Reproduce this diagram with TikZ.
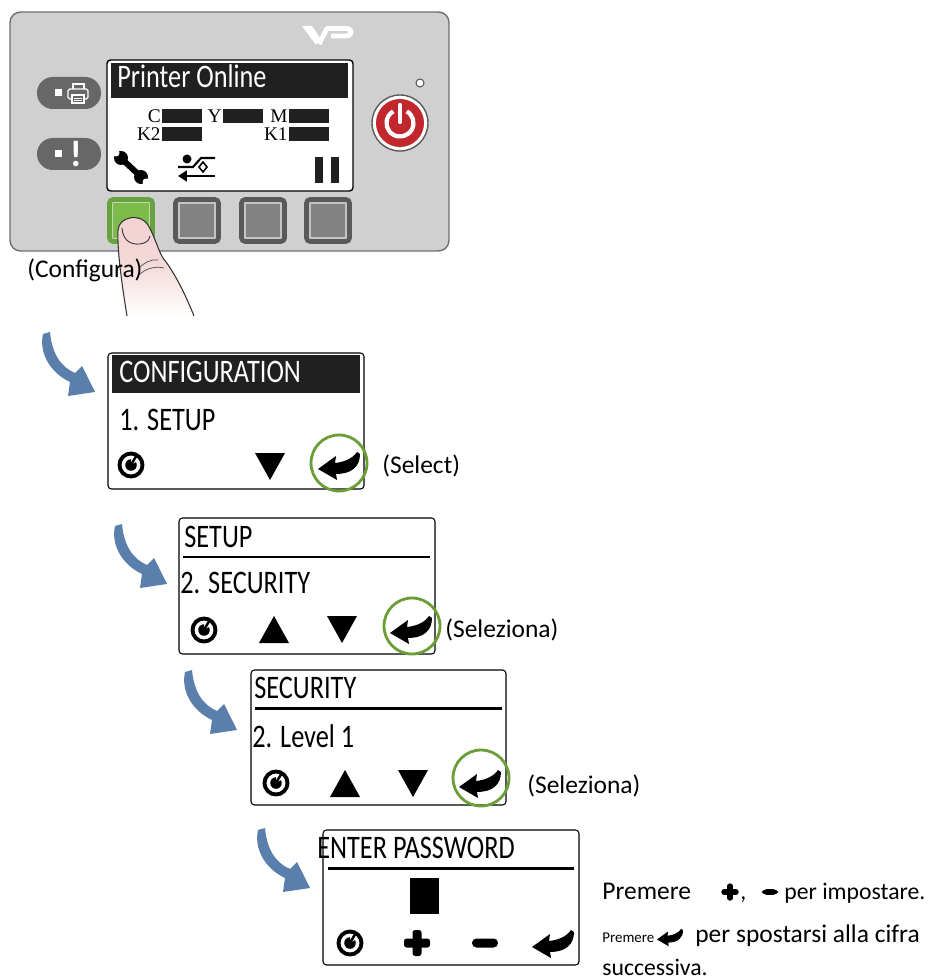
\documentclass[tikz,border=0pt]{standalone}
\usepackage{fontspec}
\setmainfont{Carlito}
\newfontfamily\lcdfont[FakeStretch=0.8]{Carlito}
\newfontfamily\inkfont{Liberation Serif}
\usetikzlibrary{arrows.meta}

\definecolor{panelgray}{HTML}{D0D0D0}
\definecolor{panelline}{HTML}{6F6F6F}
\definecolor{pillgray}{HTML}{676767}
\definecolor{lcdblack}{HTML}{202020}
\definecolor{keygreen}{HTML}{7DBB4B}
\definecolor{keygreenrim}{HTML}{67A440}
\definecolor{keygreengap}{HTML}{C5D8B6}
\definecolor{keygap}{HTML}{C4C4C4}
\definecolor{keyrim}{HTML}{5A5A5A}
\definecolor{keyface}{HTML}{828282}
\definecolor{powerred}{HTML}{C1272D}
\definecolor{stepblue}{HTML}{5B7FAD}
\definecolor{ringgreen}{HTML}{6B9E37}
\definecolor{fingerpink}{HTML}{F2D0D0}

\tikzset{
  screen/.style={draw=black, line width=0.6pt, rounded corners=2pt, fill=white},
  lcd/.style={font=\lcdfont\fontsize{18.7}{19}\selectfont, inner sep=0pt, anchor=base west},
  hint/.style={font=\fontsize{14.5}{16}\selectfont, inner sep=0pt, anchor=base west},
  note/.style={font=\fontsize{13.5}{15}\selectfont, inner sep=0pt, anchor=base west},
  ink/.style={font=\inkfont\fontsize{11}{11}\selectfont, inner sep=0pt, anchor=base east},
  ring/.style={draw=ringgreen, line width=1.6pt},
  % lcd soft-key icons
  pics/refresh/.style={code={
    \draw[line width=2.2pt] (0,0) circle[radius=11.5];
    \fill (0,0) -- (-30:5.8) arc[start angle=-30, end angle=270, radius=5.8] -- cycle;
    \draw[line width=1.4pt] (0,0) -- (-60:11);
  }},
  pics/arrowDown/.style={code={\fill (-15,-13) -- (15,-13) -- (0,14) -- cycle;}},
  pics/arrowUp/.style={code={\fill (-15,14) -- (15,14) -- (0,-13) -- cycle;}},
  pics/enterKey/.style={code={
    \fill (-21,4) -- (-3,-9) -- (-4,-2) .. controls (6,-3) and (14,-7) .. (18,-13)
      -- (21,-11) .. controls (21,2) and (12,9) .. (-3,9) -- (-2,15) -- cycle;
  }},
  pics/plusKey/.style={code={
    \fill[rounded corners=1.5pt] (-4.5,-13) rectangle (4.5,13);
    \fill[rounded corners=1.5pt] (-13,-4.5) rectangle (13,4.5);
  }},
  pics/minusKey/.style={code={\fill[rounded corners=2.5pt] (-13,-4.5) rectangle (13,4.5);}},
  pics/stepArrow/.style={code={
    \fill[stepblue] (0,2) .. controls (-4,20) and (6,40) .. (27,50) -- (25,64) -- (52,60)
      -- (39,34) -- (32,41) .. controls (18,35) and (9,22) .. (7,0) -- cycle;
  }},
}

\begin{document}
\begin{tikzpicture}[x=0.02cm, y=-0.02cm]
  \useasboundingbox (0,0) rectangle (934,979);

  % Control panel
  \draw[draw=panelline, fill=panelgray, line width=0.8pt, rounded corners=6pt] (10,12) rectangle (449,251);

  % Logo
  \fill[white] (302,26) -- (312,26) -- (320,38) -- (316,45) -- cycle;
  \draw[white, line width=2.8pt, line join=round] (319,44) -- (327,28.5) -- (346,28.5)
    .. controls (353,28.5) and (353,36) .. (346,36) -- (331,36);

  % Status keys on the left
  \fill[pillgray, rounded corners=9pt] (37,77) rectangle (101,109);
  \fill[white] (55,89.5) rectangle (62,96.5);
  \draw[white, line width=0.7pt] (73,90) -- (73,84) -- (84,84) -- (84,90);
  \draw[white, line width=0.7pt, fill=pillgray, rounded corners=1pt] (68,89) rectangle (88,99);
  \draw[white, line width=0.7pt, fill=pillgray] (72,95) rectangle (84,103);
  \draw[white, line width=0.5pt] (74,98) -- (82,98) (74,100.5) -- (82,100.5);
  \fill[pillgray, rounded corners=9pt] (37,138) rectangle (101,170);
  \fill[white] (55,150.5) rectangle (62,157.5);
  \node[white, font=\fontsize{21}{21}\selectfont\bfseries, inner sep=0pt] (alarm) at (76,154) {!};

  % Display
  \draw[fill=white, line width=0.8pt, rounded corners=2pt] (107,60) rectangle (353,191);
  \fill[lcdblack] (111,63) rectangle (348,98);
  \node[lcd, white] (online) at (117,88) {Printer Online};

  % Ink levels
  \foreach \x/\y/\lab in {162/123/C, 223/123/Y, 289/123/M, 162/141/K2, 289/141/K1} {
    \fill[lcdblack] (\x,\y-14) rectangle (\x+40,\y);
    \node[ink] (ink\lab) at (\x-1,\y) {\lab};
  }

  % Wrench
  \draw[line width=3.4pt] (123,160) -- (139,175);
  \fill (121,158) circle[radius=7];
  \fill (141,177) circle[radius=7];
  \fill[white] (116,153) circle[radius=3.5];
  \fill[white] (146,182) circle[radius=3.5];
  % Paper feed
  \fill (187,159) circle[radius=4.5];
  \draw[line width=1.2pt] (178,167) -- (193,167) -- (201,158) -- (215,158);
  \draw[line width=0.9pt] (203,162) -- (207,167) -- (203,172) -- (199,167) -- cycle;
  \draw[line width=1.6pt, -{Triangle[length=5pt,width=6pt]}] (215,176) -- (178,176);
  % Pause
  \fill[lcdblack] (315,157) rectangle (323,183);
  \fill[lcdblack] (331,157) rectangle (339,183);

  % Soft keys
  \draw[draw=keygreenrim, fill=keygreengap, line width=2.6pt, rounded corners=2pt] (109.5,199.5) rectangle (152.5,241.5);
  \fill[keygreen] (113,203) rectangle (149,238);
  \foreach \x in {173,239,304} {
    \draw[draw=keyrim, fill=keygap, line width=2.6pt, rounded corners=2pt] (\x+2.5,199.5) rectangle (\x+45.5,241.5);
    \fill[keyface] (\x+7,204) rectangle (\x+41,237);
  }

  % Power key and led
  \draw[draw=keyrim, fill=white, line width=0.8pt] (400,123) circle[radius=28];
  \fill[powerred] (400,123) circle[radius=24];
  \draw[white, line width=2.4pt] (400,123) ++(-60:13.5) arc[start angle=-60, end angle=240, radius=13.5];
  \draw[white, line width=2.4pt, line cap=round] (400,122) -- (400,105);
  \draw[draw=keyrim, fill=white, line width=0.6pt] (420,83) circle[radius=4];

  % Finger on the first key
  \shade[top color=fingerpink, bottom color=white, middle color=fingerpink!80]
    (127,316) .. controls (122,285) and (117,250) .. (118,230)
    .. controls (119,216) and (141,213) .. (148,225)
    .. controls (155,237) and (158,250) .. (163,258)
    .. controls (175,273) and (186,296) .. (194,316) -- cycle;
  \draw[line width=0.6pt, black!80] (127,316) .. controls (122,285) and (117,250) .. (118,230)
    .. controls (119,216) and (141,213) .. (148,225)
    .. controls (155,237) and (158,250) .. (163,258)
    .. controls (175,273) and (186,296) .. (194,316);
  \draw[line width=0.5pt, black!80] (122,228) .. controls (123,240) and (130,245) .. (140,244)
    .. controls (146,243) and (149,241) .. (150,236);
  \draw[line width=0.4pt, black!70] (139,268) .. controls (145,262) and (152,259) .. (158,260)
    (140,274) .. controls (147,268) and (156,266) .. (164,268);
  \node[hint] (cfgKey) at (27,278) {(Configura)};

  % Configuration menu
  \pic at (43,332) {stepArrow};
  \draw[screen] (108,353) rectangle (364,489);
  \fill[lcdblack] (112,355) rectangle (360,393);
  \node[lcd, white] (cfgTitle) at (119,382) {CONFIGURATION};
  \node[lcd] (cfgItem) at (119,430) {1. SETUP};
  \pic at (131,465) {refresh};
  \pic at (270,466) {arrowDown};
  \pic at (339,465) {enterKey};
  \draw[ring] (339,463) circle[radius=28];
  \node[hint] (cfgSel) at (382,473) {(Select)};

  % Setup menu
  \pic at (115,524) {stepArrow};
  \draw[screen] (179,518) rectangle (435,654);
  \node[lcd] (setTitle) at (184,547) {SETUP};
  \draw[line width=1.7pt] (183,557) -- (430,557);
  \node[lcd] (setItem) at (180,593) {2. SECURITY};
  \pic at (204,630) {refresh};
  \pic at (274,629) {arrowUp};
  \pic at (342,629) {arrowDown};
  \pic at (411,629) {enterKey};
  \draw[ring] (412,626) circle[radius=28];
  \node[hint] (setSel) at (445,637) {(Seleziona)};

  % Security menu
  \pic at (185,670) {stepArrow};
  \draw[screen] (251,670) rectangle (506,805);
  \node[lcd] (secTitle) at (254,698) {SECURITY};
  \draw[line width=1.7pt] (255,708) -- (502,708);
  \node[lcd] (secItem) at (252,747) {2. Level 1};
  \pic at (276,783) {refresh};
  \pic at (345,783) {arrowUp};
  \pic at (413,783) {arrowDown};
  \pic at (480,783) {enterKey};
  \draw[ring] (481,778) circle[radius=28];
  \node[hint] (secSel) at (527,793) {(Seleziona)};

  % Password entry
  \pic at (258,828) {stepArrow};
  \draw[screen] (323,830) rectangle (579,965);
  \node[lcd] (pwdTitle) at (317,858) {ENTER PASSWORD};
  \draw[line width=1.7pt] (328,868) -- (574,868);
  \fill (410,878) rectangle (439,914);
  \pic at (350,943) {refresh};
  \pic at (417,943) {plusKey};
  \pic at (485,943) {minusKey};
  \pic at (553,943) {enterKey};

  % Notes
  \node[note, font=\fontsize{14.5}{15}\selectfont] (pwdHint) at (602,899) {Premere};
  \pic[scale=0.66] at (730,892) {plusKey};
  \node[note] (pwdComma) at (740,899) {,};
  \pic[scale=0.62] at (770,892) {minusKey};
  \node[note] (pwdSet) at (784,899) {per impostare.};
  \node[note, font=\fontsize{8.5}{9}\selectfont] (pwdHintB) at (602,942) {Premere};
  \pic[scale=0.62] at (670,937) {enterKey};
  \node[note, font=\fontsize{14.5}{15}\selectfont] (pwdNext) at (695,942) {per spostarsi alla cifra};
  \node[note] (pwdNextB) at (602,975) {successiva.};
\end{tikzpicture}
\end{document}
